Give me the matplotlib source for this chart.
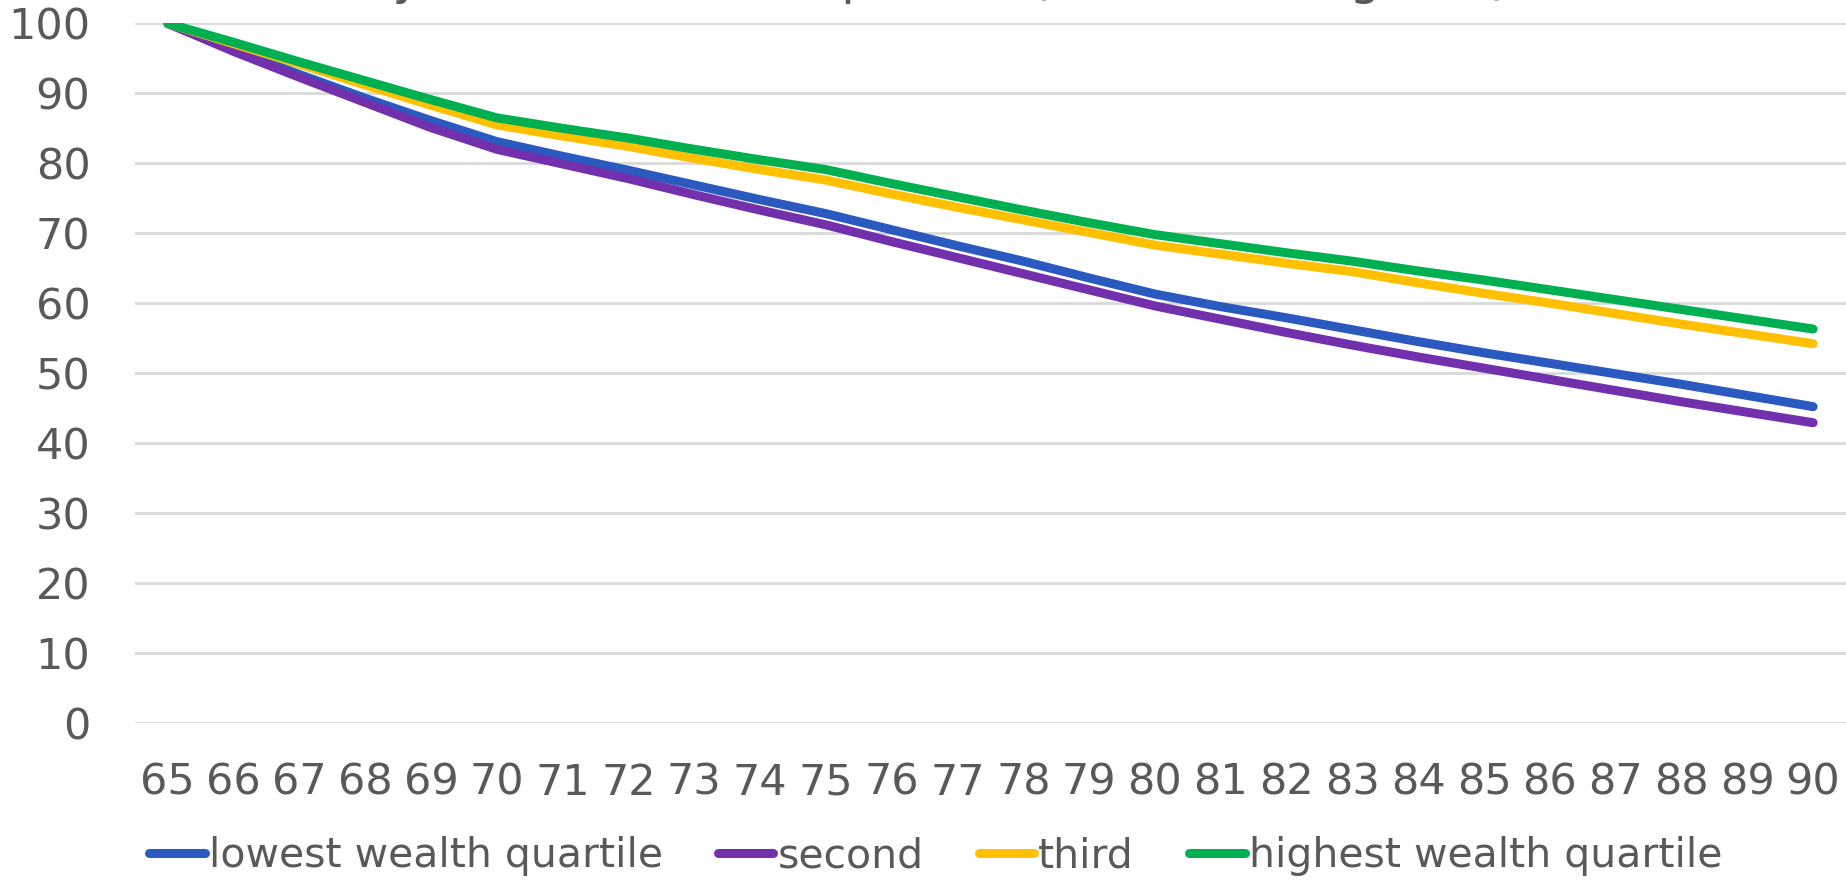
import numpy as np
import matplotlib
matplotlib.use('Agg')
import matplotlib.pyplot as plt

# %% data
ages = list(range(65, 91))
lowest = [100, 96.3, 92.7, 89.3, 86.1, 83.1, 81.0, 79.0, 76.9, 74.8, 72.8, 70.5, 68.2,
          66.0, 63.6, 61.3, 59.5, 57.9, 56.2, 54.5, 52.9, 51.4, 49.9, 48.4, 46.8, 45.2]
second = [100, 96.0, 92.3, 88.7, 85.1, 82.0, 79.9, 77.8, 75.5, 73.3, 71.2, 68.8, 66.5,
          64.2, 61.9, 59.6, 57.7, 55.8, 54.0, 52.3, 50.7, 49.1, 47.5, 45.9, 44.4, 42.9]
third = [100, 97.1, 94.2, 91.2, 88.3, 85.5, 83.9, 82.4, 80.7, 79.1, 77.6, 75.6, 73.7,
         71.9, 70.1, 68.3, 67.0, 65.7, 64.5, 62.9, 61.4, 60.0, 58.5, 57.0, 55.6, 54.2]
highest = [100, 97.3, 94.5, 91.8, 89.1, 86.5, 85.0, 83.6, 82.0, 80.5, 79.1, 77.1, 75.2,
           73.3, 71.5, 69.8, 68.5, 67.2, 66.0, 64.6, 63.3, 61.9, 60.5, 59.1, 57.7, 56.3]

series = [('lowest wealth quartile', lowest, '#2A59BF'),
          ('second', second, '#7330AC'),
          ('third', third, '#FFC000'),
          ('highest wealth quartile', highest, '#00B050')]

title = 'Survival by lifetime wealth quartile (relative to age 65)'

# %% plot
plt.rcParams['font.family'] = 'DejaVu Sans'
txt_col = '#595959'

fig = plt.figure(figsize=(18.46, 8.82), dpi=100)
ax = fig.add_axes([0.0731, 0.1806, 0.9269, 0.7928])

x = np.arange(len(ages))
for name, vals, col in series:
    ax.plot(x, vals, color=col, lw=6.5, solid_capstyle='round',
            solid_joinstyle='round', label=name)

ax.set_xlim(-0.5, len(ages) - 0.5)
ax.set_ylim(0, 100)
ax.set_yticks(range(0, 101, 10))
ax.set_xticks(x)
ax.set_xticklabels([str(a) for a in ages])
ax.yaxis.grid(True, color='#d9d9d9', lw=2)
ax.set_axisbelow(True)
for s in ax.spines.values():
    s.set_visible(False)
ax.tick_params(axis='both', length=0, labelsize=31, colors=txt_col)
ax.tick_params(axis='y', pad=32)
ax.tick_params(axis='x', pad=28)

leg = fig.legend(loc='center left', bbox_to_anchor=(0.072, 0.029), ncol=4,
                 frameon=False, fontsize=29.5, handlelength=1.35,
                 handletextpad=0.1, columnspacing=1.35, borderaxespad=0)
for t in leg.get_texts():
    t.set_color(txt_col)
for h in leg.legend_handles:
    h.set_linewidth(6.5)
    h.set_solid_capstyle('round')

# title sits mostly above the visible area, only descenders show
fig.text(0.448, 1 + 6 / 882, title, ha='center', va='baseline',
         fontsize=35.7, color=txt_col)

fig.savefig('out.png', dpi=100)
